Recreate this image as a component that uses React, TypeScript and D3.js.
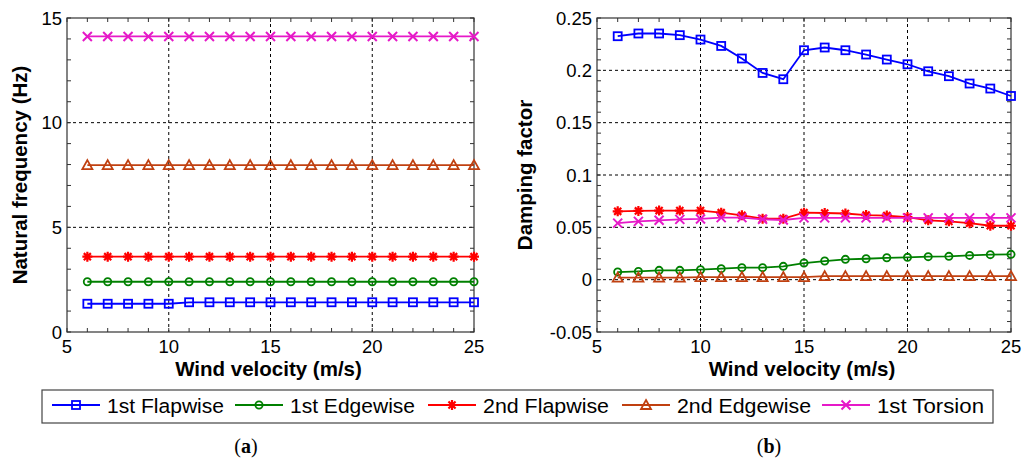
import React from "react";
import * as d3 from "d3";

// ---- data ----
const windSpeed = [6, 7, 8, 9, 10, 11, 12, 13, 14, 15, 16, 17, 18, 19, 20, 21, 22, 23, 24, 25];

const seriesNames = ["1st Flapwise", "1st Edgewise", "2nd Flapwise", "2nd Edgewise", "1st Torsion"];
const seriesColors = ["#0000FF", "#008000", "#FF0000", "#C04010", "#E619C8"];
const seriesMarkers = ["square", "circle", "star", "triangle", "cross"];

const flap1Freq = [1.35, 1.35, 1.35, 1.35, 1.35, 1.42, 1.42, 1.42, 1.42, 1.42, 1.42, 1.42, 1.42, 1.42, 1.42, 1.42, 1.42, 1.42, 1.42, 1.42];
const edge1Freq = [2.4, 2.4, 2.4, 2.4, 2.4, 2.4, 2.4, 2.4, 2.4, 2.4, 2.4, 2.4, 2.4, 2.4, 2.4, 2.4, 2.4, 2.4, 2.4, 2.4];
const flap2Freq = [3.6, 3.6, 3.6, 3.6, 3.6, 3.6, 3.6, 3.6, 3.6, 3.6, 3.6, 3.6, 3.6, 3.6, 3.6, 3.6, 3.6, 3.6, 3.6, 3.6];
const edge2Freq = [7.97, 7.97, 7.97, 7.97, 7.97, 7.97, 7.97, 7.97, 7.97, 7.97, 7.97, 7.97, 7.97, 7.97, 7.97, 7.97, 7.97, 7.97, 7.97, 7.97];
const torsionFreq = [14.12, 14.12, 14.12, 14.12, 14.12, 14.12, 14.12, 14.12, 14.12, 14.12, 14.12, 14.12, 14.12, 14.12, 14.12, 14.12, 14.12, 14.12, 14.12, 14.12];

const flap1Damp = [0.2326, 0.2352, 0.2352, 0.2336, 0.2294, 0.2233, 0.2113, 0.1975, 0.1915, 0.2192, 0.2218, 0.2192, 0.2151, 0.2103, 0.2058, 0.1991, 0.1944, 0.1874, 0.1826, 0.1755];
const edge1Damp = [0.0073, 0.0079, 0.0089, 0.0089, 0.0095, 0.0105, 0.0115, 0.0115, 0.0127, 0.0159, 0.0178, 0.0194, 0.02, 0.0209, 0.0213, 0.022, 0.0223, 0.0232, 0.0239, 0.0242];
const flap2Damp = [0.0653, 0.0657, 0.066, 0.066, 0.066, 0.064, 0.0615, 0.0583, 0.0583, 0.064, 0.0637, 0.0632, 0.0617, 0.0612, 0.0598, 0.0567, 0.0557, 0.054, 0.0515, 0.0515];
const edge2Damp = [0.002, 0.002, 0.002, 0.002, 0.0025, 0.0025, 0.0025, 0.0025, 0.0025, 0.0025, 0.0034, 0.0034, 0.0034, 0.0034, 0.0034, 0.0034, 0.0034, 0.0034, 0.0034, 0.0034];
const torsionDamp = [0.054, 0.0557, 0.0567, 0.0576, 0.058, 0.0593, 0.0593, 0.0577, 0.057, 0.059, 0.059, 0.059, 0.059, 0.059, 0.059, 0.059, 0.059, 0.059, 0.059, 0.059];

const xTicks = [5, 10, 15, 20, 25];
const freqTicks = [0, 5, 10, 15];
const freqTickLabels = ["0", "5", "10", "15"];
const dampTicks = [-0.05, 0, 0.05, 0.1, 0.15, 0.2, 0.25];
const dampTickLabels = ["-0.05", "0", "0.05", "0.1", "0.15", "0.2", "0.25"];

const xTitle = "Wind velocity (m/s)";
const freqTitle = "Natural frequency (Hz)";
const dampTitle = "Damping factor";
const panelLabels = ["a", "b"];

// ---- layout ----
const W = 1025;
const H = 462;
const SANS = "'Liberation Sans', Arial, sans-serif";
const SERIF = "'Liberation Serif', 'DejaVu Serif', serif";

function Marker({ kind, x, y, color }: { kind: string; x: number; y: number; color: string }) {
  const sw = 1.8;
  if (kind === "square") return <rect x={x - 4} y={y - 4} width={8} height={8} fill="none" stroke={color} strokeWidth={sw} />;
  if (kind === "circle") return <circle cx={x} cy={y} r={3.6} fill="none" stroke={color} strokeWidth={sw} />;
  if (kind === "triangle")
    return <path d={`M${x},${y - 5}L${x + 5},${y + 4}L${x - 5},${y + 4}Z`} fill="none" stroke={color} strokeWidth={sw} />;
  if (kind === "cross")
    return (
      <path d={`M${x - 4.5},${y - 4.5}L${x + 4.5},${y + 4.5}M${x - 4.5},${y + 4.5}L${x + 4.5},${y - 4.5}`} stroke={color} strokeWidth={2} />
    );
  const r = 5;
  const a = r * Math.SQRT1_2;
  return (
    <path
      d={`M${x - r},${y}L${x + r},${y}M${x},${y - r}L${x},${y + r}M${x - a},${y - a}L${x + a},${y + a}M${x - a},${y + a}L${x + a},${y - a}`}
      stroke={color}
      strokeWidth={2.2}
    />
  );
}

type PanelProps = {
  x0: number;
  x1: number;
  y0: number;
  y1: number;
  yDomain: [number, number];
  yTicks: number[];
  yTickLabels: string[];
  yMinorStep: number;
  yTitle: string;
  yTitleX: number;
  series: number[][];
};

function Panel(p: PanelProps) {
  const x = d3.scaleLinear().domain([5, 25]).range([p.x0, p.x1]);
  const y = d3.scaleLinear().domain(p.yDomain).range([p.y1, p.y0]);
  const xMinor = d3.range(5, 25.001, 1);
  const nMinor = Math.round((p.yDomain[1] - p.yDomain[0]) / p.yMinorStep);
  const yMinor = d3.range(0, nMinor + 1).map((i) => p.yDomain[0] + i * p.yMinorStep);
  const line = d3
    .line<number>()
    .x((_, i) => x(windSpeed[i]))
    .y((d) => y(d));
  const tickLen = 4;
  const axisColor = "#333";
  return (
    <g>
      {xTicks.slice(1, -1).map((t) => (
        <line key={"gx" + t} x1={x(t)} x2={x(t)} y1={p.y0} y2={p.y1} stroke="#000" strokeWidth={1} strokeDasharray="3,3" />
      ))}
      {p.yTicks.slice(1, -1).map((t) => (
        <line key={"gy" + t} x1={p.x0} x2={p.x1} y1={y(t)} y2={y(t)} stroke="#000" strokeWidth={1} strokeDasharray="3,3" />
      ))}
      {xMinor.map((t) => (
        <g key={"mx" + t}>
          <line x1={x(t)} x2={x(t)} y1={p.y1} y2={p.y1 - tickLen} stroke={axisColor} />
          <line x1={x(t)} x2={x(t)} y1={p.y0} y2={p.y0 + tickLen} stroke={axisColor} />
        </g>
      ))}
      {yMinor.map((t, i) => (
        <g key={"my" + i}>
          <line x1={p.x0} x2={p.x0 + tickLen} y1={y(t)} y2={y(t)} stroke={axisColor} />
          <line x1={p.x1} x2={p.x1 - tickLen} y1={y(t)} y2={y(t)} stroke={axisColor} />
        </g>
      ))}
      <rect x={p.x0} y={p.y0} width={p.x1 - p.x0} height={p.y1 - p.y0} fill="none" stroke={axisColor} strokeWidth={1.2} />
      {p.series.map((vals, si) => (
        <g key={"s" + si}>
          <path d={line(vals) || ""} fill="none" stroke={seriesColors[si]} strokeWidth={1.8} />
          {vals.map((v, i) => (
            <Marker key={i} kind={seriesMarkers[si]} x={x(windSpeed[i])} y={y(v)} color={seriesColors[si]} />
          ))}
        </g>
      ))}
      {xTicks.map((t) => (
        <text key={"tx" + t} x={x(t)} y={353} textAnchor="middle" fontFamily={SANS} fontSize={18.5} fill="#000">
          {t}
        </text>
      ))}
      {p.yTicks.map((t, i) => (
        <text key={"ty" + i} x={p.x0 - 5} y={y(t) + 6.5} textAnchor="end" fontFamily={SANS} fontSize={18.5} fill="#000">
          {p.yTickLabels[i]}
        </text>
      ))}
      <text x={(p.x0 + p.x1) / 2 - 2} y={376} textAnchor="middle" fontFamily={SANS} fontWeight="bold" fontSize={20.5} fill="#000">
        {xTitle}
      </text>
      <text
        transform={`translate(${p.yTitleX},${(p.y0 + p.y1) / 2}) rotate(-90)`}
        textAnchor="middle"
        dy="0.35em"
        fontFamily={SANS}
        fontWeight="bold"
        fontSize={20.5}
        fill="#000"
      >
        {p.yTitle}
      </text>
    </g>
  );
}

const legendItemX = [52, 235, 428, 622, 822];
const legendTextLen = [117, 125, 126, 134, 107];

export default function App() {
  return (
    <svg width={W} height={H} style={{ position: "absolute", left: 0, top: 0, background: "#fff" }}>
      <rect x={0} y={0} width={W} height={H} fill="#fff" />
      <Panel
        x0={67}
        x1={474}
        y0={18}
        y1={332}
        yDomain={[0, 15]}
        yTicks={freqTicks}
        yTickLabels={freqTickLabels}
        yMinorStep={1}
        yTitle={freqTitle}
        yTitleX={20}
        series={[flap1Freq, edge1Freq, flap2Freq, edge2Freq, torsionFreq]}
      />
      <Panel
        x0={597}
        x1={1011}
        y0={18}
        y1={332}
        yDomain={[-0.05, 0.25]}
        yTicks={dampTicks}
        yTickLabels={dampTickLabels}
        yMinorStep={0.01}
        yTitle={dampTitle}
        yTitleX={525}
        series={[flap1Damp, edge1Damp, flap2Damp, edge2Damp, torsionDamp]}
      />
      <rect x={42} y={390} width={951} height={33} fill="#fff" stroke="#444" strokeWidth={1.2} />
      {seriesNames.map((name, i) => {
        const lx = legendItemX[i];
        return (
          <g key={name}>
            <line x1={lx} x2={lx + 48} y1={405} y2={405} stroke={seriesColors[i]} strokeWidth={2} />
            <Marker kind={seriesMarkers[i]} x={lx + 24} y={405} color={seriesColors[i]} />
            <text
              x={lx + 55}
              y={413}
              fontFamily={SANS}
              fontSize={20.5}
              fill="#000"
              textLength={legendTextLen[i]}
              lengthAdjust="spacingAndGlyphs"
            >
              {name}
            </text>
          </g>
        );
      })}
      {panelLabels.map((l, i) => (
        <text key={l} x={i === 0 ? 246 : 769} y={453} textAnchor="middle" fontFamily={SERIF} fontSize={20} fill="#000">
          (<tspan fontWeight="bold">{l}</tspan>)
        </text>
      ))}
    </svg>
  );
}
